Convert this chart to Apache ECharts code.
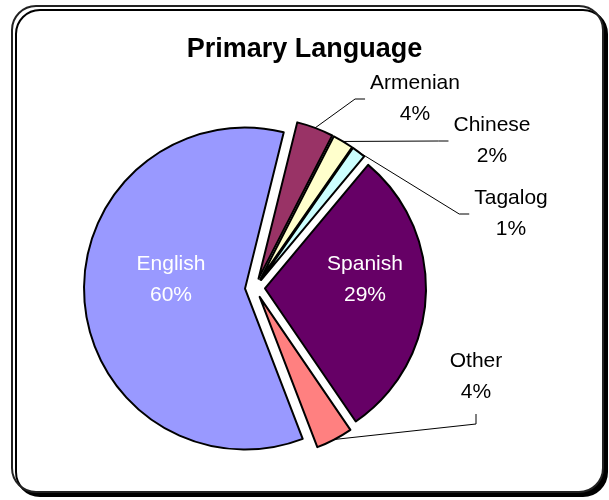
<!DOCTYPE html>
<html>
<head>
<meta charset="utf-8">
<script src="https://cdn.jsdelivr.net/npm/echarts@6/dist/echarts.min.js"></script>
<style>
  html, body { margin: 0; padding: 0; background: #fff; }
  #chart { width: 609px; height: 500px; }
</style>
</head>
<body>
<div id="chart"></div>
<script>
// data
const languages = ['English', 'Armenian', 'Chinese', 'Tagalog', 'Spanish', 'Other']
const shares = [59.7, 3.7, 2.1, 1.4, 29.4, 3.7]
const colors = ['#9999FF', '#993366', '#FFFFCC', '#CCFFFF', '#660066', '#FF8080']
const insideLabel = [true, false, false, false, true, false]

// where each label box sits (centre) and which side the leader line meets it
const labelSpots = [
  [171, 280], [415, 99], [492, 141], [511, 214], [365, 280], [476, 377]
]
const leaderSide = [null, 'left', 'left', 'left', null, 'bottom']

const center = [255, 288]
const radius = 161
const explode = 10
const startAngle = -69
const total = shares.reduce((a, b) => a + b, 0)

const chart = echarts.init(document.getElementById('chart'))
const font = '"Liberation Sans", Arial, sans-serif'
const fontSize = 21
const lineH = 31

const ctx = document.createElement('canvas').getContext('2d')
ctx.font = fontSize + 'px ' + font
const pct = (i) => Math.round(shares[i] * 100 / total) + '%'

// middle angle of slice i, in the pie's own convention (radians, ccw from east)
function midAngle (i) {
  let cum = 0
  for (let k = 0; k < i; k++) cum += shares[k]
  return (startAngle - (cum + shares[i] / 2) / total * 360) * Math.PI / 180
}

const option = {
  animation: false,
  backgroundColor: '#fff',
  title: {
    text: 'Primary Language',
    left: 'center',
    top: 31,
    textStyle: { fontFamily: font, fontSize: 27, fontWeight: 'bold', color: '#000' }
  },
  graphic: [{
    type: 'rect',
    z: -10,
    silent: true,
    shape: { x: 12, y: 6, width: 591, height: 486, r: 24 },
    style: {
      fill: '#fff',
      stroke: '#222',
      lineWidth: 2,
      shadowColor: '#000',
      shadowOffsetX: 4,
      shadowOffsetY: 4,
      shadowBlur: 0
    }
  }],
  series: [{
    type: 'pie',
    center: center,
    radius: radius,
    startAngle: startAngle,
    clockwise: true,
    selectedMode: 'multiple',
    selectedOffset: explode,
    avoidLabelOverlap: false,
    emphasis: { disabled: true },
    itemStyle: { borderColor: '#000', borderWidth: 2 },
    label: {
      fontFamily: font,
      fontSize: fontSize,
      lineHeight: lineH,
      formatter: (p) => '{t|' + p.name + '}\n{t|' + Math.round(p.percent) + '%}',
      rich: {
        t: { width: 100, align: 'center', fontFamily: font, fontSize: fontSize, lineHeight: lineH }
      }
    },
    labelLine: {
      show: true,
      lineStyle: { color: '#000', width: 1 }
    },
    // move each label to its spot; the label sits inside the exploded slice's frame
    labelLayout: (p) => {
      const i = p.dataIndex
      const a = midAngle(i)
      const off = [explode * Math.cos(a), -explode * Math.sin(a)]
      const s = labelSpots[i]
      const r = p.labelRect
      const out = {
        dx: s[0] - off[0] - (r.x + r.width / 2),
        dy: s[1] - off[1] - (r.y + r.height / 2)
      }
      const side = leaderSide[i]
      if (side) {
        const start = [center[0] + radius * Math.cos(a), center[1] - radius * Math.sin(a)]
        let end, elbow
        if (side === 'left') {
          const half = Math.max(ctx.measureText(languages[i]).width, ctx.measureText(pct(i)).width) / 2
          end = [s[0] - off[0] - half - 5, s[1] - off[1]]
          elbow = [end[0] - 10, end[1]]
        } else {
          end = [s[0] - off[0], s[1] - off[1] + lineH + 6]
          elbow = [end[0], end[1] + 10]
        }
        out.labelLinePoints = [start, elbow, end]
      }
      return out
    },
    data: languages.map((name, i) => ({
      name: name,
      value: shares[i],
      selected: true,
      itemStyle: { color: colors[i] },
      label: {
        color: insideLabel[i] ? '#fff' : '#000',
        position: insideLabel[i] ? 'inside' : 'outside',
        rich: { t: { color: insideLabel[i] ? '#fff' : '#000' } }
      },
      labelLine: { show: !insideLabel[i] }
    }))
  }]
}
chart.setOption(option)
</script>
</body>
</html>
